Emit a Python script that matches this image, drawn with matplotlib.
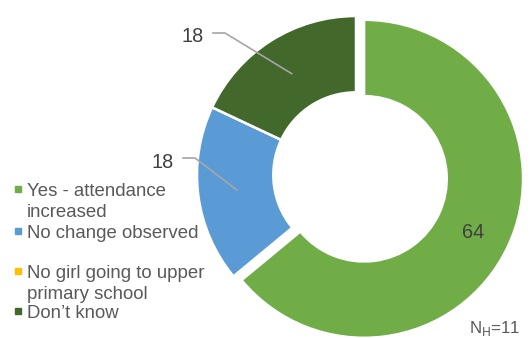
import numpy as np
import matplotlib
matplotlib.use("Agg")
import matplotlib.pyplot as plt

# Responses on girls' attendance in upper primary school
categories = ["Yes - attendance\nincreased", "No change observed",
              "No girl going to upper\nprimary school", "Don\u2019t know"]
values = [64, 18, 0, 18]
colors = ["#70AD47", "#5B9BD5", "#FFC000", "#43682B"]
sample_note = "N$_\\mathrm{H}$=11"

W, H, DPI = 532, 338, 100
fig = plt.figure(figsize=(W / DPI, H / DPI), dpi=DPI)
ax = fig.add_axes([0, 0, 1, 1])

# ring geometry in pixels
cx, cy, R = 356, 163, 159  # centre (from bottom-left) and outer radius
explode = [0.056, 0, 0, 0]

wedges, _ = ax.pie(values, colors=colors, startangle=90, counterclock=False,
                   explode=explode, radius=1.0,
                   wedgeprops=dict(width=0.48, edgecolor="white", linewidth=1.8))
ax.set_xlim(-cx / R, (W - cx) / R)
ax.set_ylim(-cy / R, (H - cy) / R)
ax.set_aspect("equal", adjustable="datalim")
ax.axis("off")

label_color = "#404040"
text_color = "#595959"
fs = 13.4
fs_val = 14.3
font = "Liberation Sans"

# value labels
total = sum(values)
start = 90.0
mids = []
for v in values:
    sweep = 360.0 * v / total
    mids.append(np.deg2rad(start - sweep / 2))
    start -= sweep

# largest slice: label inside the ring
m = mids[0]
r = 0.76 + explode[0]
ax.text(r * np.cos(m), r * np.sin(m), str(values[0]), ha="center",
        va="center_baseline", fontsize=fs_val, color=label_color, family=font)


def px(x, y):
    """pixel position (from top-left) to data coordinates"""
    return (x - cx) / R, ((H - y) - cy) / R


# outside labels with leader lines
leader = dict(color="#A6A6A6", lw=1.2)
for idx, text_xy, elbow, start_xy in [(3, (193, 35), (225, 33), (213, 33)),
                                      (1, (163, 160), (195, 158), (183, 158))]:
    m = mids[idx]
    r = 0.755
    ex, ey = r * np.cos(m), r * np.sin(m)
    sx, sy = px(*start_xy)
    bx, by = px(*elbow)
    ax.plot([sx, bx, ex], [sy, by, ey], **leader)
    tx, ty = px(*text_xy)
    ax.text(tx, ty, str(values[idx]), ha="center", va="center_baseline",
            fontsize=fs_val, color=label_color, family=font)

# legend drawn at the left
legend_rows = [189, 231, 271, 311]
line_gap = 21.5
for lab, col, y in zip(categories, colors, legend_rows):
    fig.patches.append(plt.Rectangle((15 / W, 1 - (y + 3) / H), 6 / W, 6 / H,
                                     transform=fig.transFigure, color=col,
                                     figure=fig))
    for k, line in enumerate(lab.split("\n")):
        fig.text(27 / W, 1 - (y + k * line_gap) / H, line, ha="left",
                 va="center_baseline", fontsize=fs, color=text_color,
                 family=font)

fig.text(469 / W, 1 - 326 / H, sample_note, ha="left", va="center_baseline",
         fontsize=12.2, color=text_color, family=font)

fig.savefig("out.png", dpi=DPI, facecolor="white")
